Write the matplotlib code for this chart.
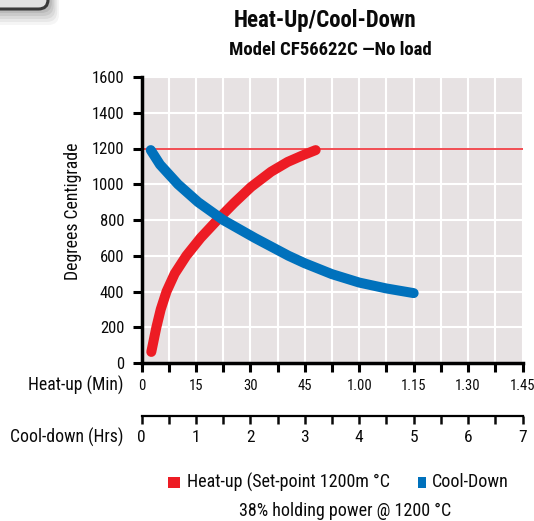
import matplotlib
matplotlib.use("Agg")
import matplotlib.pyplot as plt
from matplotlib import font_manager
from matplotlib.patches import Rectangle, FancyBboxPatch

# Heat-up run (minutes, degrees C)
heat_minutes = [2.7, 4.1, 5.3, 6.9, 9.15, 12.35, 16.3, 20.9, 25.5, 30.2, 35.7, 40.3, 44.8, 48.0]
heat_temps = [62, 200, 300, 400, 500, 600, 700, 800, 895, 985, 1070, 1125, 1165, 1191]

# Cool-down run (hours, degrees C)
cool_hours = [0.17, 0.34, 0.67, 1.04, 1.50, 2.08, 2.7, 3.0, 3.5, 4.0, 4.5, 5.0]
cool_temps = [1191, 1110, 1000, 900, 800, 700, 600, 558, 497, 450, 417, 391]

setpoint = 1200

minute_ticks = [0, 7.5, 15, 22.5, 30, 37.5, 45, 52.5, 60, 67.5, 75, 82.5, 90, 97.5, 105]
minute_labels = ["0", "", "15", "", "30", "", "45", "", "1.00", "", "1.15", "", "1.30", "", "1.45"]
hour_ticks = [0, 0.5, 1, 1.5, 2, 2.5, 3, 3.5, 4, 4.5, 5, 5.5, 6, 6.5, 7]
hour_labels = ["0", "", "1", "", "2", "", "3", "", "4", "", "5", "", "6", "", "7"]
temp_ticks = [0, 200, 400, 600, 800, 1000, 1200, 1400, 1600]

RED = "#ED1C24"
BLUE = "#0071BC"
BG = "#E7E2E3"
INK = "#0A0A0A"


def pick_family():
    for fam in ["Liberation Sans Narrow", "Roboto Condensed", "Liberation Sans"]:
        try:
            font_manager.findfont(font_manager.FontProperties(family=fam),
                                  fallback_to_default=False)
            return fam
        except Exception:
            continue
    return "DejaVu Sans"


FAM = pick_family()
plt.rcParams["font.family"] = [FAM, "DejaVu Sans"]
plt.rcParams["text.color"] = INK
plt.rcParams["xtick.color"] = INK
plt.rcParams["ytick.color"] = INK

W, H = 534, 521
fig = plt.figure(figsize=(W / 100, H / 100), dpi=100)
fig.patch.set_facecolor("white")


def fx(px):
    return px / W


def fy(py):
    return 1 - py / H


# Decorative rounded tab in the top-left corner
for i, a in enumerate([0.04, 0.05, 0.06, 0.07, 0.08]):
    grow = (5 - i) * 3
    fig.patches.append(FancyBboxPatch((fx(-40), fy(10 + grow)), fx(90 + grow * 0.6), fy(-40) - fy(10 + grow),
                                      boxstyle="round,pad=0,rounding_size=0.02",
                                      transform=fig.transFigure, facecolor="black",
                                      edgecolor="none", alpha=a, zorder=1))
fig.patches.append(FancyBboxPatch((fx(-40), fy(9)), fx(88), fy(-40) - fy(9),
                                  boxstyle="round,pad=0,rounding_size=0.018",
                                  transform=fig.transFigure, facecolor="#E2E2E2",
                                  edgecolor="#3A3A3A", linewidth=2.2, zorder=2))

# Main axes (minutes on x)
ax = fig.add_axes([fx(141.5), fy(363), fx(522.5) - fx(141.5), fy(77) - fy(363)])
ax.set_facecolor(BG)
ax.set_xlim(0, 105)
ax.set_ylim(0, 1600)
ax.set_xticks(minute_ticks)
ax.set_xticklabels(minute_labels, fontsize=10.5)
ax.set_yticks(temp_ticks)
ax.set_yticklabels([str(t) for t in temp_ticks], fontsize=12)
ax.grid(True, color="white", linewidth=1.5)
ax.set_axisbelow(True)
for s in ["top", "right"]:
    ax.spines[s].set_visible(False)
for s in ["left", "bottom"]:
    ax.spines[s].set_linewidth(2.5)
    ax.spines[s].set_color("black")
ax.tick_params(axis="both", direction="out", length=6.5, width=2.2, color="black")
ax.tick_params(axis="x", pad=5)
ax.tick_params(axis="y", pad=6)

ax.axhline(setpoint, color=RED, linewidth=1.1, zorder=2)
ax.plot(heat_minutes, heat_temps, color=RED, linewidth=7.2,
        solid_capstyle="round", solid_joinstyle="round", zorder=3, clip_on=False)

# Hour axis below for the cool-down run
axh = ax.twiny()
axh.set_xlim(0, 7)
axh.xaxis.set_ticks_position("bottom")
axh.xaxis.set_label_position("bottom")
axh.spines["bottom"].set_position(("outward", 38.5))
for s in ["top", "right", "left"]:
    axh.spines[s].set_visible(False)
axh.spines["bottom"].set_linewidth(1.6)
axh.set_xticks(hour_ticks)
axh.set_xticklabels(hour_labels, fontsize=12.5)
axh.tick_params(axis="x", direction="out", length=5.5, width=1.8, pad=4)
axh.plot(cool_hours, cool_temps, color=BLUE, linewidth=7.2,
         solid_capstyle="round", solid_joinstyle="round", zorder=4, clip_on=False)

# Axis captions
fig.text(fx(73), fy(211), "Degrees Centigrade", rotation=90, ha="center", va="center",
         fontsize=12.7)
fig.text(fx(123), fy(385), "Heat-up (Min)", ha="right", va="center", fontsize=12.7)
fig.text(fx(124), fy(437), "Cool-down (Hrs)", ha="right", va="center", fontsize=12.7)

# Titles
fig.text(fx(325), fy(20), "Heat-Up/Cool-Down", ha="center", va="center",
         fontsize=16.5, fontweight="bold")
fig.text(fx(330), fy(50), "Model CF56622C \u2014No load", ha="center", va="center",
         fontsize=13.5, fontweight="bold")

# Legend
fig.patches.append(Rectangle((fx(168), fy(488)), fx(12), fy(477) - fy(488),
                             transform=fig.transFigure, facecolor=RED, edgecolor="none"))
fig.text(fx(187), fy(482), "Heat-up (Set-point 1200m \u00b0C", ha="left", va="center",
         fontsize=13)
fig.patches.append(Rectangle((fx(418), fy(488)), fx(8), fy(477) - fy(488),
                             transform=fig.transFigure, facecolor=BLUE, edgecolor="none"))
fig.text(fx(432), fy(482), "Cool-Down", ha="left", va="center", fontsize=13)
fig.text(fx(345), fy(511), "38% holding power @ 1200 \u00b0C", ha="center", va="center",
         fontsize=13)

fig.savefig("out.png", dpi=100, facecolor="white")
